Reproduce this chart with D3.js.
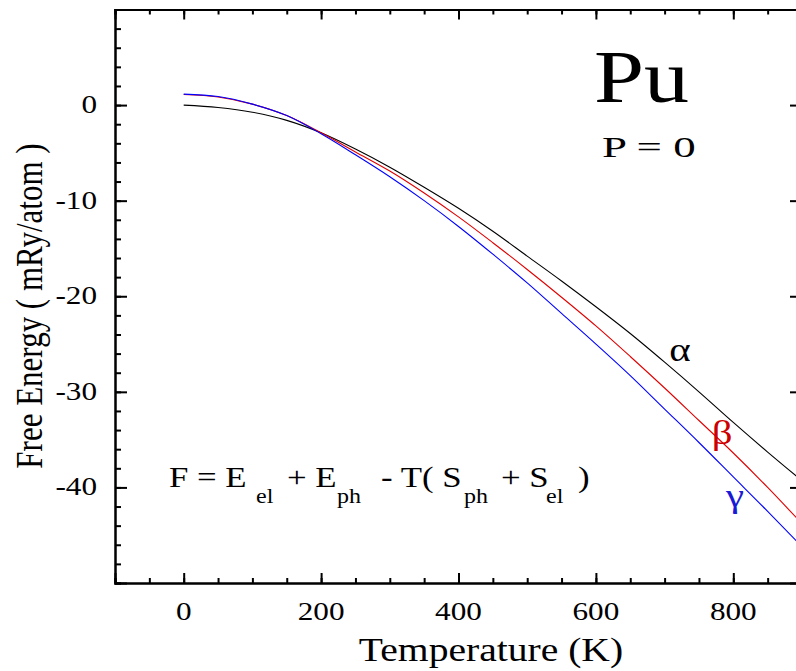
<!DOCTYPE html>
<html>
<head>
<meta charset="utf-8">
<script src="https://cdn.jsdelivr.net/npm/d3@7"></script>
<style>
  body { margin: 0; background: #fff; }
  svg { display: block; font-family: "Liberation Serif", "Times New Roman", serif; }
</style>
</head>
<body>
<svg id="chart" width="796" height="671"></svg>
<script>
// temperatures (K) and free energies (mRy/atom)
var temps = [0, 50, 100, 150, 200, 250, 300, 350, 400, 450, 500, 550, 600, 650, 700, 750, 800, 850, 900];
var alphaF = [0.0, -0.25, -0.75, -1.6, -2.9, -4.6, -6.5, -8.6, -10.8, -13.2, -15.8, -18.4, -21.1, -23.9, -26.9, -30.0, -33.2, -36.3, -39.3];
var betaF = [1.1, 0.85, 0.1, -1.1, -2.9, -4.9, -6.9, -9.2, -11.7, -14.4, -17.2, -20.1, -23.1, -26.3, -29.6, -33.0, -36.4, -40.0, -43.8];
var gammaF = [1.15, 0.9, 0.1, -1.1, -3.0, -5.2, -7.5, -10.0, -12.7, -15.6, -18.6, -21.8, -25.0, -28.3, -31.8, -35.3, -38.9, -42.5, -46.2];

var xTicks = [0, 200, 400, 600, 800];
var yTicks = [0, -10, -20, -30, -40];

function drawChart() {
    var svg = d3.select("#chart");
    var mLeft = 115, mRight = 802, mTop = 9.5, mBottom = 583;
    var sx = 1.2; // the original figure is stretched horizontally

    var x = d3.scaleLinear().domain([-100, 900]).range([mLeft, mRight]);
    var y = d3.scaleLinear().domain([-50, 10]).range([mBottom, mTop]);

    // text helper, with the horizontal stretch of the source
    function label(px, py, txt, size, anchor, color) {
        return svg.append("text")
            .attr("transform", "translate(" + px + "," + py + ") scale(" + sx + ",1)")
            .attr("text-anchor", anchor || "start")
            .attr("font-size", size)
            .attr("fill", color || "#000")
            .text(txt);
    }

    // curves
    var series = [
        { vals: alphaF, color: "#000000" },
        { vals: betaF, color: "#e00000" },
        { vals: gammaF, color: "#0000ff" }
    ];

    svg.append("clipPath").attr("id", "clip")
        .append("rect").attr("x", mLeft).attr("y", mTop)
        .attr("width", mRight - mLeft).attr("height", mBottom - mTop);

    var line = d3.line()
        .x(function (d) { return x(d[0]); })
        .y(function (d) { return y(d[1]); })
        .curve(d3.curveMonotoneX);

    svg.append("g").attr("clip-path", "url(#clip)")
        .selectAll("path")
        .data(series)
        .join("path")
        .attr("fill", "none")
        .attr("stroke", function (d) { return d.color; })
        .attr("stroke-width", 1.1)
        .attr("d", function (d) { return line(temps.map(function (t, i) { return [t, d.vals[i]]; })); });

    // axes: major + minor ticks, all pointing inwards
    var xMinor = d3.range(-100, 901, 50);
    var yMinor = d3.range(-50, 11, 2);

    var bottomAxis = svg.append("g").attr("transform", "translate(0," + mBottom + ")");
    bottomAxis.call(d3.axisTop(x).tickValues(xMinor).tickSize(5).tickFormat(""));
    bottomAxis.append("g").call(d3.axisTop(x).tickValues(xTicks).tickSize(10).tickFormat(""));

    var topAxis = svg.append("g").attr("transform", "translate(0," + mTop + ")");
    topAxis.call(d3.axisBottom(x).tickValues(xMinor).tickSize(5).tickFormat(""));
    topAxis.append("g").call(d3.axisBottom(x).tickValues(xTicks).tickSize(10).tickFormat(""));

    var leftAxis = svg.append("g").attr("transform", "translate(" + mLeft + ",0)");
    leftAxis.call(d3.axisRight(y).tickValues(yMinor).tickSize(6).tickFormat(""));
    leftAxis.append("g").call(d3.axisRight(y).tickValues(yTicks).tickSize(12).tickFormat(""));

    var rightAxis = svg.append("g").attr("transform", "translate(" + mRight + ",0)");
    rightAxis.call(d3.axisLeft(y).tickValues(yMinor).tickSize(6).tickFormat(""));
    rightAxis.append("g").call(d3.axisLeft(y).tickValues(yTicks).tickSize(12).tickFormat(""));

    svg.selectAll(".domain").attr("stroke", "#000").attr("stroke-width", 2);
    svg.selectAll(".tick line").attr("stroke", "#000").attr("stroke-width", 2);

    // tick labels
    xTicks.forEach(function (t) { label(x(t), 620, t, 26, "middle"); });
    yTicks.forEach(function (v) { label(97, y(v) + 8, v, 26, "end"); });

    // axis titles
    label(491, 661, "Temperature (K)", 33, "middle");
    svg.append("text")
        .attr("transform", "translate(42,306) rotate(-90) scale(1," + sx + ")")
        .attr("text-anchor", "middle")
        .attr("font-size", 31)
        .text("Free Energy ( mRy/atom )");

    // title block
    label(594, 102, "Pu", 75);
    label(602, 157, "P = 0", 30).attr("textLength", 78).attr("lengthAdjust", "spacingAndGlyphs");

    // formula
    var fy = 487, fs = 29, subY = 503, subS = 20;
    label(169, fy, "F = E", fs);
    label(256, subY, "el", subS);
    label(287, fy, "+ E", fs);
    label(337, subY, "ph", subS);
    label(381, fy, "- T( S", fs);
    label(464, subY, "ph", subS);
    label(501, fy, "+ S", fs);
    label(546, subY, "el", subS);
    label(578, fy, ")", fs);

    // phase labels
    label(680, 361, "\u03b1", 34, "middle");
    label(722, 444, "\u03b2", 34, "middle", "#cc0000");
    label(735, 507, "\u03b3", 34, "middle", "#1a1ad6");
}

drawChart();
</script>
</body>
</html>
